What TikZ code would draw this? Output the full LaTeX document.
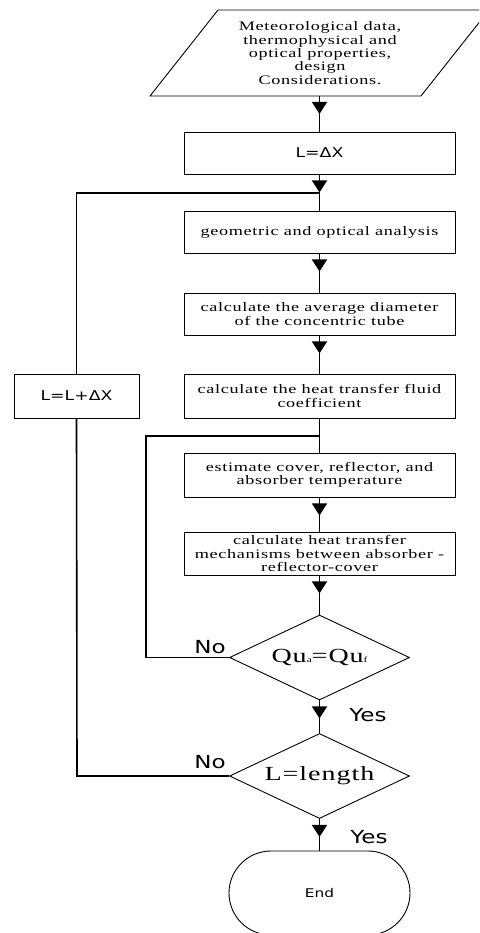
\documentclass[tikz,border=0pt]{standalone}
\usepackage{fontspec}
\setmainfont{Liberation Serif}[FakeStretch=1.4,LetterSpace=5]
\newfontfamily\sansf{DejaVu Sans}[FakeStretch=1.28]
\usetikzlibrary{shapes.geometric,arrows.meta,decorations.markings}
\tikzset{
 procbox/.style={draw, line width=0.9pt, minimum width=271pt, inner sep=0pt, align=center, font=\fontsize{13}{13.6}\selectfont},
 sansbox/.style={draw, line width=0.9pt, inner sep=0pt, font=\sansf\fontsize{13.5}{15}\selectfont},
 decbox/.style={draw, diamond, line width=0.9pt, minimum width=180pt, minimum height=85pt, inner sep=0pt, aspect=2.1, font=\fontsize{20}{22}\selectfont},
 conn/.style={line width=1.6pt},
 arr/.style={conn, postaction={decorate}, decoration={markings, mark=at position 18pt with {\arrow{Triangle[width=15pt,length=12pt]}}}},
 lbl/.style={font=\sansf\fontsize{18}{20}\selectfont, inner sep=0pt},
}
\begin{document}
\begin{tikzpicture}[x=1pt,y=-1pt]
\useasboundingbox (0,0) rectangle (479,933);
\clip (0,0) rectangle (479,933);
% input parallelogram
\draw[line width=0.9pt] (150,96) -- (218,10) -- (489,10) -- (421,96) -- cycle;
\node[align=center, inner sep=0pt, font=\fontsize{13}{13.4}\selectfont] (para) at (320,53)
 {Meteorological data,\\thermophysical and\\optical properties,\\design\\Considerations.};
\coordinate (pb) at (319.5,96);
% boxes
\node[sansbox, minimum width=271pt, minimum height=42pt] (b1) at (319.5,153) {L=ΔX};
\node[procbox, minimum height=42pt] (b2) at (319.5,232) {geometric and optical analysis};
\node[procbox, minimum height=42pt] (b3) at (319.5,314) {calculate the average diameter\\of the concentric tube};
\node[procbox, minimum height=44pt] (b4) at (319.5,396) {calculate the heat transfer fluid\\coefficient};
\node[procbox, minimum height=44pt] (b5) at (319.5,475) {estimate cover, reflector, and\\absorber temperature};
\node[procbox, minimum height=43pt] (b6) at (319.5,553.5) {calculate heat transfer\\mechanisms between absorber -\\reflector-cover};
\node[decbox] (d1) at (319.5,657.5) {Qu{\fontsize{8}{8}\selectfont a}=Qu{\fontsize{8}{8}\selectfont f}};
\node[decbox] (d2) at (319.5,776) {L=length};
\node[draw, line width=0.9pt, rounded corners=42pt, minimum width=181pt, minimum height=84pt, inner sep=0pt, font=\sansf\fontsize{12}{14}\selectfont] (endn) at (319.5,893) {End};
\node[sansbox, minimum width=125pt, minimum height=44pt] (lp) at (76.5,396) {L=L+ΔX};
% junctions
\coordinate (j1) at (319.5,193);
\coordinate (j2) at (319.5,436);
\coordinate (c1) at (146,657.5);
\coordinate (c2) at (77,776);
% main flow
\draw[arr] (pb) -- (b1.north);
\draw[arr] (b1.south) -- (j1);
\draw[conn] (j1) -- (b2.north);
\draw[arr] (b2.south) -- (b3.north);
\draw[arr] (b3.south) -- (b4.north);
\draw[arr] (b4.south) -- (j2);
\draw[conn] (j2) -- (b5.north);
\draw[arr] (b5.south) -- (b6.north);
\draw[arr] (b6.south) -- (d1.north);
\draw[arr] (d1.south) -- (d2.north);
\draw[arr] (d2.south) -- (endn.north);
% loops
\draw[conn] (d1.west) -- (c1) |- (j2);
\draw[conn] (d2.west) -- (c2) -- (lp.south);
\draw[conn] (lp.north) |- (j1);
% labels
\node[lbl] (no1) at (210,647) {No};
\node[lbl] (no2) at (210,762) {No};
\node[lbl] (yes1) at (368,715) {Yes};
\node[lbl] (yes2) at (369,837) {Yes};
\end{tikzpicture}
\end{document}
